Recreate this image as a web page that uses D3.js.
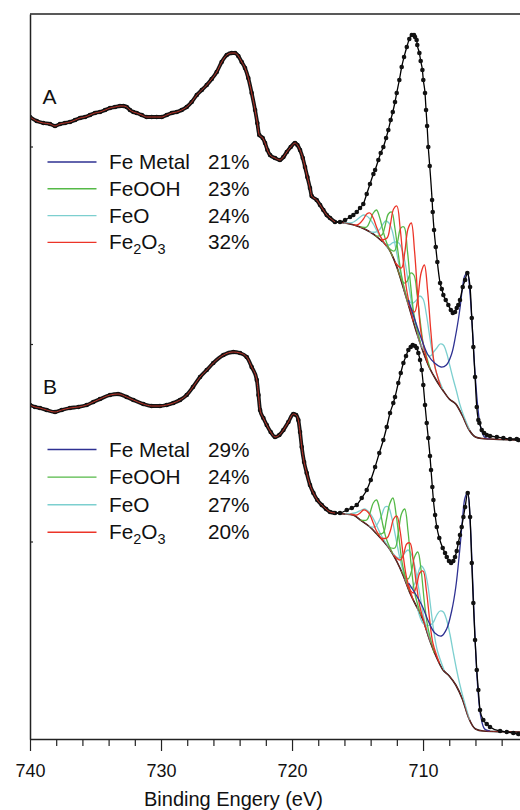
<!DOCTYPE html>
<html>
<head>
<meta charset="utf-8">
<script src="https://cdn.jsdelivr.net/npm/d3@7/dist/d3.min.js"></script>
<style>
  html, body { margin: 0; padding: 0; background: #fff; }
  svg { display: block; font-family: "Liberation Sans", Arial, Helvetica, sans-serif; }
</style>
</head>
<body>
<svg id="chart" width="520" height="810"></svg>
<script>
// Fe 2p XPS spectra, two samples stacked (A on top, B below).
// Each point: [binding energy (eV), intensity (a.u., stacked)].

const majorTicks = [740, 730, 720, 710];
const minorTicks = [738, 736, 734, 732, 728, 726, 724, 722, 718, 716, 714, 712, 708, 706, 704];
const intensityTicks = [197.5, 395, 592.5];

const speciesNames = ["Fe Metal", "FeOOH", "FeO", "Fe2O3"];
const sharesA = ["21%", "23%", "24%", "32%"];
const sharesB = ["29%", "24%", "27%", "20%"];

// measured spectrum, sample A
const dataA = [
  [740.00,622],[739.49,618],[738.98,616],[738.47,615],[738.09,613],[737.71,615],[737.33,616],
  [736.95,617],[736.56,619],[736.18,621],[735.80,622],[735.42,624],[735.04,626],[734.66,627],
  [734.27,629],[733.89,631],[733.51,632],[733.13,633],[732.88,633],[732.62,632],[732.37,629],
  [732.11,627],[731.86,626],[731.47,624],[731.09,622],[730.71,622],[730.33,622],[729.95,622],
  [729.56,624],[729.18,626],[728.80,627],[728.42,629],[728.04,632],[727.66,637],[727.27,644],
  [726.89,649],[726.51,654],[726.13,660],[725.75,667],[725.37,677],[724.98,684],[724.60,686],
  [724.35,686],[724.10,683],[723.84,677],[723.59,671],[723.34,661],[723.08,646],[722.82,629],
  [722.65,616],[722.50,604],[722.24,601],[722.06,596],[721.88,589],[721.68,584],[721.30,581],
  [720.92,579],[720.66,582],[720.40,587],[720.10,592],[719.77,596],[719.59,594],[719.39,589],
  [719.18,581],[719.01,572],[718.83,562],[718.63,551],[718.50,543],[718.12,539],[717.86,534],
  [717.61,529],[717.35,524],[717.10,521],[716.72,517],[716.34,517],[715.95,519],[715.57,522],
  [715.32,524],[715.06,527],[714.81,531],[714.56,535],[714.30,545],[714.05,555],[713.79,565],
  [713.66,569],[713.41,579],[713.23,586],[713.03,592],[712.82,601],[712.65,609],[712.47,619],
  [712.31,627],[712.14,637],[712.01,646],[711.81,659],[711.63,672],[711.45,682],[711.24,692],
  [711.05,700],[710.86,704],[710.69,704],[710.61,702],[710.49,699],[710.44,694],[710.28,686],
  [710.18,678],[710.05,669],[709.98,659],[709.85,646],[709.77,629],[709.69,613],[709.60,592],
  [709.49,573],[709.31,539],[709.26,527],[709.16,509],[709.03,492],[708.91,477],[708.70,456],
  [708.57,450],[708.45,444],[708.27,439],[708.07,434],[707.88,429],[707.73,426],[707.56,427],
  [707.43,431],[707.31,434],[707.18,439],[706.97,452],[706.79,459],[706.62,466],[706.41,452],
  [706.28,421],[706.16,392],[706.03,362],[705.90,332],[705.78,319],[705.70,316],[705.52,309],
  [705.34,306],[705.14,304],[704.89,303],[704.37,302],[703.87,301],[703.36,300],[702.85,300],
  [702.73,299]
];

// measured spectrum, sample B
const dataB = [
  [740.00,334],[739.62,332],[739.24,331],[738.73,329],[738.09,327],[737.58,329],[736.95,331],
  [736.31,332],[735.67,334],[735.17,337],[734.66,340],[733.89,344],[733.28,345],[732.62,342],
  [732.11,339],[731.35,335],[730.71,333],[730.08,333],[729.57,334],[729.06,336],[728.55,339],
  [728.04,344],[727.56,352],[727.02,362],[726.51,369],[726.01,376],[725.24,384],[724.48,387],
  [723.97,386],[723.46,382],[723.08,372],[722.69,359],[722.56,344],[722.44,329],[722.19,321],
  [721.93,314],[721.63,307],[721.30,302],[720.97,304],[720.66,309],[720.28,317],[719.90,325],
  [719.69,324],[719.52,319],[719.39,307],[719.26,292],[719.08,277],[718.88,266],[718.63,254],
  [718.37,246],[718.07,239],[717.73,234],[717.40,230],[717.10,227],[716.72,226],[716.34,226],
  [715.82,229],[715.44,231],[715.06,234],[714.68,241],[714.30,249],[713.99,259],[713.66,272],
  [713.34,286],[713.03,299],[712.77,312],[712.52,326],[712.27,336],[712.14,342],[711.89,356],
  [711.70,366],[711.50,376],[711.30,383],[711.12,389],[710.94,392],[710.79,394],[710.61,393],
  [710.48,391],[710.36,386],[710.23,379],[710.10,369],[709.98,354],[709.85,334],[709.72,316],
  [709.60,301],[709.47,283],[709.39,269],[709.29,252],[709.21,239],[709.08,224],[708.95,212],
  [708.76,201],[708.50,191],[708.32,186],[708.19,182],[708.02,178],[707.86,176],[707.69,178],
  [707.56,182],[707.43,188],[707.31,196],[707.18,204],[707.05,212],[706.92,222],[706.79,232],
  [706.59,246],[706.41,222],[706.28,176],[706.16,136],[706.03,99],[705.90,69],[705.78,49],
  [705.65,29],[705.40,19],[705.14,15],[704.89,12],[704.12,8],[703.61,7],[703.11,6],[702.73,5]
];

// Shirley backgrounds
const backgroundA = [
  [716.72,517],[715.95,516],[714.81,512],[713.51,502],[712.52,488],[712.0,472],[711.5,451],
  [711.0,429],[710.5,407],[710.0,387.5],[709.5,371],[709.0,359],[708.5,349],[708.0,340],
  [707.5,335],[707.0,323.5],[706.5,309.5],[706.0,302],[705.5,300.5],[704.89,300],[702.6,299]
];
const backgroundB = [
  [716.72,226],[716.0,225],[715.34,224],[714.75,218.7],[714.05,212],[713.5,204.5],[713.0,197.5],
  [712.5,189],[712.0,177.5],[711.5,163],[711.0,146],[710.5,132.5],[710.0,119],[709.5,99],
  [709.0,82.5],[708.5,69.5],[708.0,63],[707.5,54],[707.0,40],[706.5,20.5],[706.0,10],
  [705.4,8],[704.0,7.3],[702.6,7]
];

// fitted components (component + background), sample A
const metalA = [
  [711.12,439],[710.12,400],[709.62,384],[709.12,376],[708.62,372],[708.22,374],[707.82,385],
  [707.52,403],[707.22,427],[707.02,448],[706.82,463],[706.62,466],[706.42,446],[706.22,407],
  [706.02,364],[705.82,332],[705.62,313],[705.32,302],[704.9,300]
];
const feoohA = [
  [[714.8,512],[714.3,512],[714.05,518],[713.8,526],[713.55,529],[713.3,521],[713.05,508],[712.8,497],[712.3,482]],
  [[713.65,503],[713.15,504],[712.9,513],[712.65,525],[712.4,527],[712.15,511],[711.9,486],[711.65,464],[711.15,436]],
  [[712.7,492],[712.2,488],[711.95,497],[711.7,511],[711.45,512],[711.2,489],[710.95,454],[710.7,425],[710.2,396]],
  [[711.95,470],[711.45,456],[711.2,458],[710.95,466],[710.7,464],[710.45,444],[710.2,416],[709.95,393],[709.45,370]]
];
const feoA = [
  [[716.05,516],[715.3,517],[714.8,522],[714.55,524],[714.3,523],[714.05,520],[713.8,515],[713.3,503],[712.55,489]],
  [[714.1,507],[713.6,507],[713.35,509],[713.1,514],[712.85,518],[712.6,516],[712.35,508],[712.1,492],[711.85,475],[711.6,459],[711.1,433]],
  [[713.1,497],[712.6,494],[712.35,496],[712.1,497],[711.85,496],[711.6,489],[711.35,475],[711.1,454],[710.85,434],[710.6,416],[710.1,391]],
  [[711.5,452],[711,437],[710.75,436],[710.5,439],[710.25,443],[710,440],[709.75,425],[709.5,403],[709.25,383],[709,367],[708.5,350]],
  [[710.45,405],[709.95,389],[709.45,383],[709.2,387],[708.95,391],[708.7,395],[708.45,394],[708.2,386],[707.95,373],[707.7,360],[707.45,348],[707.2,335],[706.95,325],[706.45,309]]
];
const fe2o3A = [
  [[715.3,514],[715.05,514],[714.8,516],[714.55,520],[714.3,525],[714.05,526],[713.8,521],[713.55,512],[713.3,504],[713.05,498],[712.8,493]],
  [[713.25,499],[712.75,501],[712.5,514],[712.25,530],[712,533],[711.75,511],[711.5,477],[711.25,449],[710.75,418]],
  [[712.15,477],[711.65,471],[711.4,486],[711.15,510],[710.9,516],[710.65,488],[710.4,442],[710.15,406],[709.65,376]],
  [[711.15,436],[710.65,427],[710.4,441],[710.15,466],[709.9,474],[709.65,448],[709.4,407],[709.15,376],[708.65,352]]
];

// fitted components (component + background), sample B
const metalB = [
  [711.1,156],[710.1,134],[709.6,118],[709.1,106],[708.6,103],[708.2,110],[707.8,129],[707.5,152],
  [707.2,189],[707,218],[706.8,241],[706.6,246],[706.4,216],[706.2,155],[706,92],[705.8,47],
  [705.6,23],[705.3,10],[704.9,8]
];
const feoohB = [
  [[714.8,219],[714.3,219],[714.05,226],[713.8,236],[713.55,239],[713.3,229],[713.05,213],[712.8,200],[712.3,185]],
  [[713.55,205],[713.05,206],[712.8,219],[712.55,235],[712.3,241],[712.05,224],[711.8,197],[711.55,173],[711.05,148]],
  [[712.65,192],[712.15,191],[711.9,205],[711.65,225],[711.4,230],[711.15,208],[710.9,173],[710.65,147],[710.15,123]],
  [[711.65,168],[711.15,160],[710.9,167],[710.65,182],[710.4,187],[710.15,169],[709.9,137],[709.65,113],[709.15,86]]
];
const feoB = [
  [[715.95,225],[715.2,226],[714.7,229],[714.45,230],[714.2,228],[713.95,224],[713.7,218],[713.2,204],[712.45,188]],
  [[714.15,213],[713.65,212],[713.4,217],[713.15,224],[712.9,232],[712.65,232],[712.4,222],[712.15,206],[711.9,189],[711.65,174],[711.15,152]],
  [[712.4,187],[711.9,181],[711.65,182],[711.4,186],[711.15,189],[710.9,185],[710.65,174],[710.4,156],[710.15,137],[709.9,119],[709.4,96]],
  [[711.4,160],[710.9,151],[710.65,155],[710.4,165],[710.15,173],[709.9,169],[709.65,155],[709.4,130],[709.15,105],[708.9,88],[708.4,69]],
  [[710.45,132],[709.95,115],[709.45,114],[709.2,117],[708.95,124],[708.7,128],[708.45,127],[708.2,119],[707.95,105],[707.7,87],[707.45,70],[707.2,55],[706.95,42],[706.45,19]]
];
const fe2o3B = [
  [[715.55,225],[715.05,224],[714.8,226],[714.55,229],[714.3,228],[714.05,224],[713.8,216],[713.55,208],[713.05,198]],
  [[713.25,201],[712.75,201],[712.5,208],[712.25,220],[712,223],[711.75,208],[711.5,182],[711.25,161],[710.75,139]],
  [[712.25,184],[711.75,179],[711.5,184],[711.25,195],[711,196],[710.75,179],[710.5,154],[710.25,133],[709.75,109]],
  [[711.25,155],[710.75,146],[710.5,153],[710.25,166],[710,168],[709.75,149],[709.5,120],[709.25,96],[708.75,76]]
];

// ---- drawing ----
const colors = { metal: "#2e3192", feooh: "#55b947", feo: "#7ccfcf", fe2o3: "#ec3428" };
const legendColors = [colors.metal, colors.feooh, colors.feo, colors.fe2o3];

const svg = d3.select("#chart");
const x = d3.scaleLinear().domain([740, 702.6]).range([30, 520]);
const y = d3.scaleLinear().domain([0, 725]).range([739, 14]);

svg.append("defs").append("clipPath").attr("id", "plotClip")
  .append("rect").attr("x", x(740)).attr("y", y(725))
  .attr("width", x(702.6) - x(740)).attr("height", y(0) - y(725));

const plot = svg.append("g").attr("clip-path", "url(#plotClip)");

const smoothLine = d3.line().x(d => x(d[0])).y(d => y(d[1])).curve(d3.curveMonotoneX);
const peakLine = d3.line().x(d => x(d[0])).y(d => y(d[1])).curve(d3.curveCatmullRom.alpha(0.5));

function drawPanel(data, bg, metal, feooh, feo, fe2o3) {
  const g = plot.append("g");
  const satellite = data.filter(d => d[0] >= 716.7);
  g.append("path").datum(bg).attr("d", smoothLine)
    .attr("fill", "none").attr("stroke", "#111").attr("stroke-width", 1.6);
  feo.forEach(c => g.append("path").datum(c).attr("d", peakLine)
    .attr("fill", "none").attr("stroke", colors.feo).attr("stroke-width", 1.3));
  feooh.forEach(c => g.append("path").datum(c).attr("d", peakLine)
    .attr("fill", "none").attr("stroke", colors.feooh).attr("stroke-width", 1.3));
  fe2o3.forEach(c => g.append("path").datum(c).attr("d", peakLine)
    .attr("fill", "none").attr("stroke", colors.fe2o3).attr("stroke-width", 1.3));
  g.append("path").datum(metal).attr("d", peakLine)
    .attr("fill", "none").attr("stroke", colors.metal).attr("stroke-width", 1.3);
  g.append("path").datum(bg).attr("d", smoothLine)
    .attr("fill", "none").attr("stroke", "#b8322a").attr("stroke-width", 0.7);
  // envelope through the measured points
  g.append("path").datum(data).attr("d", smoothLine)
    .attr("fill", "none").attr("stroke", "#000").attr("stroke-width", 1.3);
  g.append("path").datum(satellite).attr("d", smoothLine)
    .attr("fill", "none").attr("stroke", "#151515").attr("stroke-width", 3.8);
  g.selectAll("circle.pt").data(data).join("circle").attr("class", "pt")
    .attr("cx", d => x(d[0])).attr("cy", d => y(d[1])).attr("r", 2.3).attr("fill", "#111");
  // satellite-region fit drawn over the points
  g.append("path").datum(satellite).attr("d", smoothLine)
    .attr("fill", "none").attr("stroke", "#d0382b").attr("stroke-width", 0.9);
}

drawPanel(dataA, backgroundA, metalA, feoohA, feoA, fe2o3A);
drawPanel(dataB, backgroundB, metalB, feoohB, feoB, fe2o3B);

// frame: left axis, top border, bottom axis
const axisColor = "#222";
const left = svg.append("g").attr("transform", `translate(${x(740)},0)`)
  .call(d3.axisLeft(y).tickValues(intensityTicks).tickSizeInner(-3).tickSizeOuter(0).tickFormat(""));
left.select(".domain").attr("stroke", axisColor).attr("stroke-width", 1.5);
left.selectAll(".tick line").attr("stroke", axisColor).attr("stroke-width", 1.2);

svg.append("line").attr("x1", x(740)).attr("x2", x(702.6)).attr("y1", y(725)).attr("y2", y(725))
  .attr("stroke", axisColor).attr("stroke-width", 1.6);

const minor = svg.append("g").attr("transform", `translate(0,${y(0)})`)
  .call(d3.axisBottom(x).tickValues(minorTicks).tickSizeInner(7).tickSizeOuter(0).tickFormat(""));
minor.select(".domain").remove();
minor.selectAll(".tick line").attr("stroke", axisColor).attr("stroke-width", 1.2);

const bottom = svg.append("g").attr("transform", `translate(0,${y(0)})`)
  .call(d3.axisBottom(x).tickValues(majorTicks).tickSizeInner(12).tickSizeOuter(0).tickPadding(13).tickFormat(d3.format("d")));
bottom.select(".domain").attr("stroke", axisColor).attr("stroke-width", 1.5);
bottom.selectAll(".tick line").attr("stroke", axisColor).attr("stroke-width", 1.2);
bottom.selectAll(".tick text").attr("font-size", 18).attr("fill", "#111")
  .attr("font-family", "\"Liberation Sans\", Arial, sans-serif");

svg.append("text").attr("x", 233.5).attr("y", 806).attr("text-anchor", "middle")
  .attr("font-size", 20).attr("fill", "#111").text("Binding Engery (eV)");

// panel letters
svg.append("text").attr("x", 42.5).attr("y", 103.5).attr("font-size", 21).attr("fill", "#111").text("A");
svg.append("text").attr("x", 43).attr("y", 394).attr("font-size", 21).attr("fill", "#111").text("B");

// legends
function drawLegend(top, gap, shares) {
  const g = svg.append("g");
  speciesNames.forEach((name, i) => {
    const yy = top + i * gap;
    g.append("line").attr("x1", 47.5).attr("x2", 96.5).attr("y1", yy).attr("y2", yy)
      .attr("stroke", legendColors[i]).attr("stroke-width", 1.4);
    const t = g.append("text").attr("x", 109).attr("y", yy + 7).attr("font-size", 20.8).attr("fill", "#111");
    if (name === "Fe2O3") {
      t.append("tspan").text("Fe");
      t.append("tspan").attr("font-size", 14.5).attr("dy", 5).text("2");
      t.append("tspan").attr("dy", -5).text("O");
      t.append("tspan").attr("font-size", 14.5).attr("dy", 5).text("3");
    } else {
      t.text(name);
    }
    g.append("text").attr("x", 249.5).attr("y", yy + 7).attr("text-anchor", "end")
      .attr("font-size", 20.8).attr("fill", "#111").text(shares[i]);
  });
}
drawLegend(162, 26.8, sharesA);
drawLegend(449.5, 27.6, sharesB);
</script>
</body>
</html>
